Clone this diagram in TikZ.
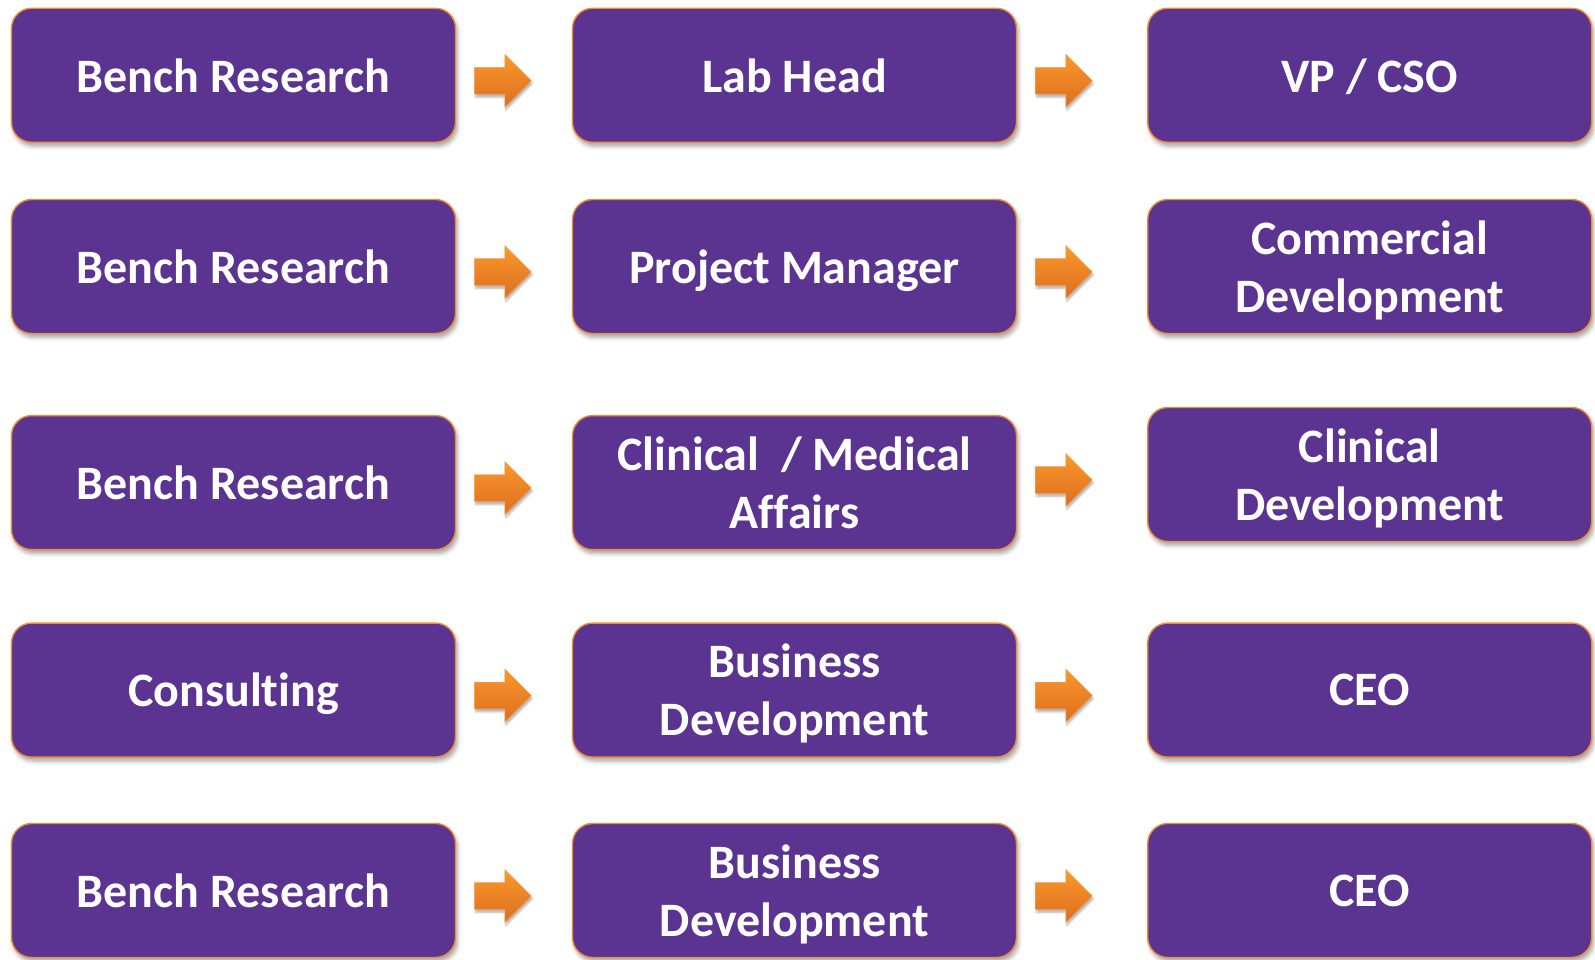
\documentclass[tikz,border=0pt]{standalone}
\usepackage{fontspec}
\setmainfont{Carlito}[Ligatures=NoCommon]
\usepackage{tikz}
\usetikzlibrary{shapes.arrows,shadows.blur,calc}
\definecolor{careerpurple}{RGB}{91, 51, 145}
\definecolor{careerorange}{RGB}{242, 140, 50}
\definecolor{arrowtop}{RGB}{249, 152, 44}
\definecolor{arrowbottom}{RGB}{222, 110, 30}

\tikzset{
    rolebox/.style={rectangle, rounded corners=20pt, fill=careerpurple, draw=careerorange,
        line width=1.4pt, minimum width=444pt, minimum height=134pt, inner sep=0pt,
        text=white, align=center, text depth=0pt, font=\fontsize{48}{58}\selectfont\bfseries,
        blur shadow={shadow xshift=2pt, shadow yshift=-4pt, shadow blur radius=4pt, shadow opacity=35}},
    stepsign/.style={single arrow, shape border rotate=0, top color=arrowtop, bottom color=arrowbottom,
        draw=careerorange!80!white, line width=0.4pt, minimum height=57pt, minimum width=53pt,
        inner xsep=0pt, inner ysep=13pt, single arrow head extend=13pt, single arrow tip angle=90,
        blur shadow={shadow xshift=1pt, shadow yshift=-3pt, shadow blur radius=2pt, shadow opacity=30}}
}

\begin{document}
\begin{tikzpicture}[x=1pt, y=1pt]
    % Page area
    \useasboundingbox (0,0) rectangle (1595,960);

    % Row 1 - lab track
    \node[rolebox] (b11) at (233.5,884.7) {Bench Research};
    \node[rolebox] (b12) at (794.5,884.7) {Lab Head};
    \node[rolebox] (b13) at (1369.7,884.7) {VP / CSO};

    % Row 2 - project track
    \node[rolebox] (b21) at (233.5,693.5) {Bench Research};
    \node[rolebox] (b22) at (794.5,693.5) {Project Manager};
    \node[rolebox] (b23) at (1369.7,693.5) {Commercial\\Development};

    % Row 3 - clinical track
    \node[rolebox] (b31) at (233.5,477.4) {Bench Research};
    \node[rolebox] (b32) at (794.5,477.4) {Clinical\ \ / Medical\\Affairs};
    \node[rolebox] (b33) at (1369.7,485.5) {Clinical\\Development};

    % Row 4 - consulting track
    \node[rolebox] (b41) at (233.5,269.9) {Consulting};
    \node[rolebox] (b42) at (794.5,269.9) {Business\\Development};
    \node[rolebox] (b43) at (1369.7,269.9) {CEO};

    % Row 5 - business track
    \node[rolebox] (b51) at (233.5,69.5) {Bench Research};
    \node[rolebox] (b52) at (794.5,69.5) {Business\\Development};
    \node[rolebox] (b53) at (1369.7,69.5) {CEO};

    % Arrows - tail just right of the left box, level with the next box
    \node[stepsign, anchor=tail] (a11) at ($(b11.east |- b12.center)+(18pt,-5.5pt)$) {};
    \node[stepsign, anchor=tail] (a12) at ($(b12.east |- b13.center)+(18pt,-5.5pt)$) {};
    \node[stepsign, anchor=tail] (a21) at ($(b21.east |- b22.center)+(18pt,-5.5pt)$) {};
    \node[stepsign, anchor=tail] (a22) at ($(b22.east |- b23.center)+(18pt,-5.5pt)$) {};
    \node[stepsign, anchor=tail] (a31) at ($(b31.east |- b32.center)+(18pt,-5.5pt)$) {};
    \node[stepsign, anchor=tail] (a32) at ($(b32.east |- b33.center)+(18pt,-5.5pt)$) {};
    \node[stepsign, anchor=tail] (a41) at ($(b41.east |- b42.center)+(18pt,-5.5pt)$) {};
    \node[stepsign, anchor=tail] (a42) at ($(b42.east |- b43.center)+(18pt,-5.5pt)$) {};
    \node[stepsign, anchor=tail] (a51) at ($(b51.east |- b52.center)+(18pt,-5.5pt)$) {};
    \node[stepsign, anchor=tail] (a52) at ($(b52.east |- b53.center)+(18pt,-5.5pt)$) {};
\end{tikzpicture}
\end{document}
